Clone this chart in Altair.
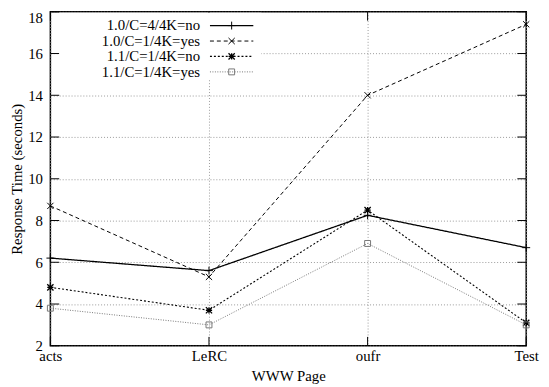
import altair as alt
import pandas as pd

pages = ["acts", "LeRC", "oufr", "Test"]
series_names = ["1.0/C=4/4K=no", "1.0/C=1/4K=yes", "1.1/C=1/4K=no", "1.1/C=1/4K=yes"]
s1 = [6.2, 5.6, 8.25, 6.7]
s2 = [8.7, 5.3, 14.0, 17.4]
s3 = [4.8, 3.7, 8.5, 3.1]
s4 = [3.8, 3.0, 6.9, 3.0]
y_ticks = [2, 4, 6, 8, 10, 12, 14, 16, 18]

values = [s1, s2, s3, s4]
W, H = 483, 339
TOP = 1
FONT = "Liberation Serif"

PLUS = "M-1,0L1,0M0,-1L0,1"
CROSS = "M-1,-1L1,1M-1,1L1,-1"
STAR = "M-1,0L1,0M0,-1L0,1M-1,-1L1,1M-1,1L1,-1"
styles = [
    dict(color="black", dash=[1, 0], width=1.3, shape=PLUS, size=64, msw=1),
    dict(color="black", dash=[4, 3], width=1.0, shape=CROSS, size=40, msw=1),
    dict(color="black", dash=[2, 2], width=1.1, shape=STAR, size=40, msw=1.3),
    dict(color="#777777", dash=[1, 1.5], width=1.0, shape="square", size=36, msw=1),
]

xscale = alt.Scale(type="point", domain=pages, padding=0)
yscale = alt.Scale(domain=[2, 18], nice=False, zero=False)

x_axis = alt.Axis(labelAngle=0, labelFont=FONT, titleFont=FONT, titleY=30,
                  titleBaseline="middle", labelPadding=3)
y_axis = alt.Axis(values=y_ticks, labelFont=FONT, titleFont=FONT,
                  labelOffset={"expr": "datum.value == 18 ? 6 : 0"},
                  titleX=-34, titleY=H / 2, titleBaseline="middle", labelPadding=8)


def X():
    return alt.X("page:N", scale=xscale, axis=x_axis, sort=pages, title="WWW Page")


def Y():
    return alt.Y("rt:Q", scale=yscale, axis=y_axis, title="Response Time (seconds)")


page_df = pd.DataFrame({"page": pages, "rt": [2] * len(pages)})
base_axes = alt.Chart(page_df).mark_point(opacity=0).encode(x=X(), y=Y())

# inward ticks (gnuplot style)
ytick_df = pd.DataFrame({"rt": y_ticks})
ytl = alt.Chart(ytick_df).mark_rule(color="black", strokeWidth=1).encode(
    y=Y(), x=alt.value(0), x2=alt.value(9))
ytr = alt.Chart(ytick_df).mark_rule(color="black", strokeWidth=1).encode(
    y=Y(), x=alt.value(W - 9), x2=alt.value(W))
xtick_df = pd.DataFrame({"page": pages})
xtb = alt.Chart(xtick_df).mark_rule(color="black", strokeWidth=1).encode(
    x=X(), y=alt.value(H - 9), y2=alt.value(H))
xtt = alt.Chart(xtick_df).mark_rule(color="black", strokeWidth=1).encode(
    x=X(), y=alt.value(0), y2=alt.value(9))

# legend background
legend_bg = alt.Chart(pd.DataFrame({"a": [0]})).mark_rect(color="white").encode(
    x=alt.value(9), x2=alt.value(214), y=alt.value(1), y2=alt.value(69))

layers = [base_axes, ytl, ytr, xtb, xtt, legend_bg]

legend_rows = [14.0, 29.7, 45.3, 61.0]
for name, vals, st, ry in zip(series_names, values, styles, legend_rows):
    df = pd.DataFrame({"page": pages, "rt": vals, "idx": list(range(len(pages)))})
    line = alt.Chart(df).mark_line(
        color=st["color"], strokeDash=st["dash"], strokeWidth=st["width"]
    ).encode(x=X(), y=Y(), order=alt.Order("idx:Q"))
    pts = alt.Chart(df).mark_point(
        shape=st["shape"], size=st["size"], filled=False,
        stroke=st["color"], strokeWidth=st["msw"], opacity=1,
    ).encode(x=X(), y=Y())
    ldf = pd.DataFrame({"series": [name]})
    ltext = alt.Chart(ldf).mark_text(
        font=FONT, fontSize=15, align="right", baseline="middle", color="black"
    ).encode(text="series:N", x=alt.value(152), y=alt.value(ry))
    lline = alt.Chart(ldf).mark_rule(
        color=st["color"], strokeDash=st["dash"], strokeWidth=st["width"]
    ).encode(x=alt.value(162), x2=alt.value(206), y=alt.value(ry))
    lpt = alt.Chart(ldf).mark_point(
        shape=st["shape"], size=st["size"], filled=False,
        stroke=st["color"], strokeWidth=st["msw"], opacity=1,
    ).encode(x=alt.value(184), y=alt.value(ry))
    layers += [line, pts, ltext, lline, lpt]

chart = alt.layer(*layers).properties(
    width=W, height=H,
    autosize=alt.AutoSizeParams(type="none"),
    padding={"left": 43, "top": TOP, "right": 15, "bottom": 38},
    background="white",
).configure_view(
    stroke="black", strokeWidth=1.5
).configure_axis(
    grid=True, gridColor="#999999", gridDash=[1, 2], gridWidth=1,
    ticks=False, domain=False, labelFont=FONT, labelFontSize=15,
    labelColor="black", titleFont=FONT, titleFontSize=15,
    titleFontWeight="normal", titleColor="black", labelFontWeight="normal",
)

chart.save("out.html", embed_options={"renderer": "svg", "actions": False})
